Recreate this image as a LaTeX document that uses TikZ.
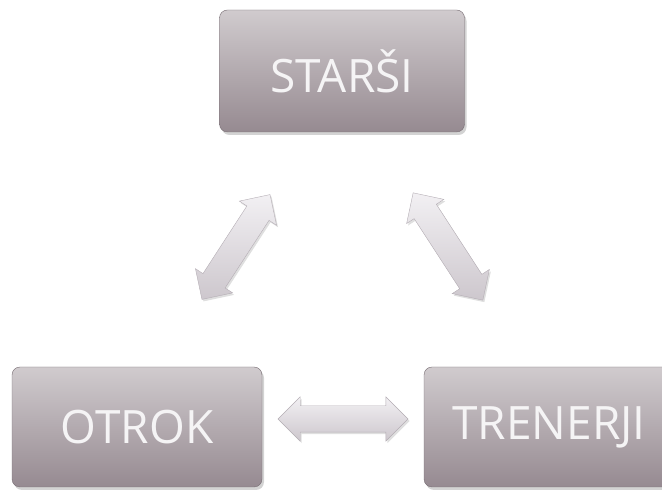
\documentclass[tikz,border=0pt]{standalone}
\usepackage{fontspec}
\setmainfont{Open Sans}
\usetikzlibrary{shapes.arrows,shadows}
\definecolor{boxtop}{RGB}{208,203,206}
\definecolor{boxbot}{RGB}{150,138,145}
\definecolor{arrtop}{RGB}{242,240,243}
\definecolor{arrbot}{RGB}{205,199,205}
\definecolor{arrline}{RGB}{180,173,180}
\definecolor{boxtext}{RGB}{245,244,245}
\tikzset{
  rolebox/.style={rounded corners=8pt, minimum width=245pt, minimum height=122pt,
    top color=boxtop, bottom color=boxbot, draw=boxbot!80!black, line width=0.4pt,
    text=boxtext, font=\fontsize{46}{54}\selectfont,
    drop shadow={shadow xshift=2pt, shadow yshift=-3pt, opacity=0.35}},
  fatarrow/.style={double arrow, double arrow head extend=9pt,
    inner xsep=0pt, inner ysep=13pt, text height=0pt, text depth=0pt, text width=0pt,
    top color=arrtop, bottom color=arrbot, draw=arrline, line width=0.4pt,
    drop shadow={shadow xshift=1.5pt, shadow yshift=-2pt, opacity=0.25}}
}
\begin{document}
\begin{tikzpicture}[x=1pt,y=1pt]
\useasboundingbox (0,0) rectangle (662,490);
\clip (0,0) rectangle (662,490);
\node[rolebox] (starsi) at (342,419) {STARŠI};
\node[rolebox, minimum width=250pt, minimum height=120pt] (otrok) at (137,63) {OTROK};
\node[rolebox, minimum width=250pt, minimum height=120pt] (trenerji) at (549,63) {TRENERJI};
\node[fatarrow, minimum height=125pt, rotate=57] (a1) at (236,243) {};
\node[fatarrow, minimum height=128pt, rotate=-57] (a2) at (448,243.5) {};
\node[fatarrow, minimum height=130pt] (a3) at (343,71) {};
\end{tikzpicture}
\end{document}
